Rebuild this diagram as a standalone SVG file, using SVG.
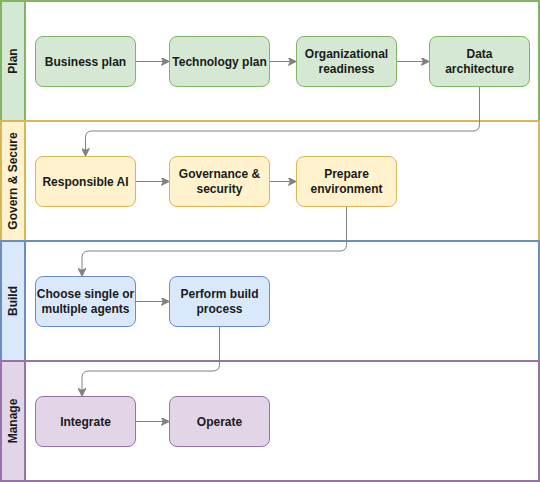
<svg xmlns="http://www.w3.org/2000/svg" width="540" height="482" viewBox="0 0 540 482">
<style>
text{font-family:"Liberation Sans",Arial,sans-serif;font-size:12px;font-weight:bold;fill:#1a1a1a;text-anchor:middle;dominant-baseline:central}
.lane{stroke-width:2}
.g{fill:#d5e8d4;stroke:#82b366}
.y{fill:#fff2cc;stroke:#d6b656}
.b{fill:#dae8fc;stroke:#6c8ebf}
.p{fill:#e1d5e7;stroke:#9673a6}
.body{fill:#ffffff}
.conn path{fill:none;stroke:#808080;stroke-width:1}
</style>
<defs>
<marker id="arr" viewBox="0 0 10 10" refX="9" refY="5" markerWidth="8" markerHeight="8" markerUnits="userSpaceOnUse" orient="auto">
<path d="M0,0 L10,5 L0,10 L2.5,5 Z" fill="#808080" stroke="#808080" stroke-width="1"/>
</marker>
</defs>
<g id="lane-plan">
<rect class="lane body" x="1" y="1" width="538" height="120" stroke="#82b366"/>
<rect class="lane g" x="1" y="1" width="24" height="120"/>
<text transform="translate(13,61) rotate(-90)">Plan</text>
</g>
<g id="lane-govern">
<rect class="lane body" x="1" y="121" width="538" height="120" stroke="#d6b656"/>
<rect class="lane y" x="1" y="121" width="24" height="120"/>
<text transform="translate(13,181) rotate(-90)">Govern &amp; Secure</text>
</g>
<g id="lane-build">
<rect class="lane body" x="1" y="241" width="538" height="120" stroke="#6c8ebf"/>
<rect class="lane b" x="1" y="241" width="24" height="120"/>
<text transform="translate(13,301) rotate(-90)">Build</text>
</g>
<g id="lane-manage">
<rect class="lane body" x="1" y="361" width="538" height="120" stroke="#9673a6"/>
<rect class="lane p" x="1" y="361" width="24" height="120"/>
<text transform="translate(13,421) rotate(-90)">Manage</text>
</g>
<g class="conn" id="connectors">
<path d="M135.5,61.5 H168.5" marker-end="url(#arr)"/>
<path d="M269.5,61.5 H295.5" marker-end="url(#arr)"/>
<path d="M396.5,61.5 H428.5" marker-end="url(#arr)"/>
<path d="M479.5,86.5 V124.5 Q479.5,131 473,131 H92 Q85.5,131 85.5,137.5 V155.5" marker-end="url(#arr)"/>
<path d="M135.5,181.5 H168.5" marker-end="url(#arr)"/>
<path d="M269.5,181.5 H295.5" marker-end="url(#arr)"/>
<path d="M346.5,206.5 V244.5 Q346.5,251 340,251 H88.5 Q82,251 82,257.5 V275.5" marker-end="url(#arr)"/>
<path d="M135.5,301.5 H168.5" marker-end="url(#arr)"/>
<path d="M219.5,326.5 V364.5 Q219.5,371 213,371 H88.5 Q82,371 82,377.5 V395.5" marker-end="url(#arr)"/>
<path d="M135.5,421.5 H168.5" marker-end="url(#arr)"/>
</g>
<g id="n-business"><rect class="g" x="35.5" y="36.5" width="100" height="50" rx="7.5"/><text x="85.5" y="61.5">Business plan</text></g>
<g id="n-tech"><rect class="g" x="169.5" y="36.5" width="100" height="50" rx="7.5"/><text x="219.5" y="61.5">Technology plan</text></g>
<g id="n-org"><rect class="g" x="296.5" y="36.5" width="100" height="50" rx="7.5"/><text x="346.5" y="54">Organizational</text><text x="346.5" y="69">readiness</text></g>
<g id="n-data"><rect class="g" x="429.5" y="36.5" width="100" height="50" rx="7.5"/><text x="479.5" y="54">Data</text><text x="479.5" y="69">architecture</text></g>
<g id="n-rai"><rect class="y" x="35.5" y="156.5" width="100" height="50" rx="7.5"/><text x="85.5" y="181.5">Responsible AI</text></g>
<g id="n-gov"><rect class="y" x="169.5" y="156.5" width="100" height="50" rx="7.5"/><text x="219.5" y="174">Governance &amp;</text><text x="219.5" y="189">security</text></g>
<g id="n-env"><rect class="y" x="296.5" y="156.5" width="100" height="50" rx="7.5"/><text x="346.5" y="174">Prepare</text><text x="346.5" y="189">environment</text></g>
<g id="n-agents"><rect class="b" x="35.5" y="276.5" width="100" height="50" rx="7.5"/><text x="85.5" y="294">Choose single or</text><text x="85.5" y="309">multiple agents</text></g>
<g id="n-build"><rect class="b" x="169.5" y="276.5" width="100" height="50" rx="7.5"/><text x="219.5" y="294">Perform build</text><text x="219.5" y="309">process</text></g>
<g id="n-integrate"><rect class="p" x="35.5" y="396.5" width="100" height="50" rx="7.5"/><text x="85.5" y="421.5">Integrate</text></g>
<g id="n-operate"><rect class="p" x="169.5" y="396.5" width="100" height="50" rx="7.5"/><text x="219.5" y="421.5">Operate</text></g>
</svg>
